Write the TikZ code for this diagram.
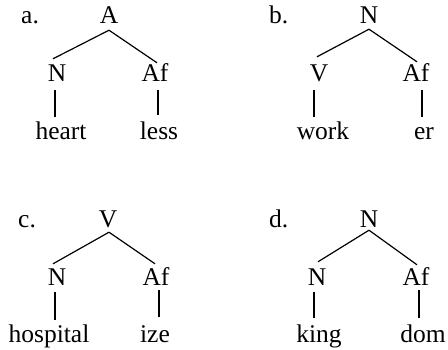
\documentclass[tikz,border=0pt]{standalone}
\usepackage{fontspec}
\setmainfont{Liberation Serif}
\begin{document}
\begin{tikzpicture}[x=1pt,y=1pt,
  lbl/.style={font=\fontsize{25.5}{30}\selectfont, inner sep=0pt, anchor=base, text height=17pt, text depth=0pt},
  tag/.style={lbl, anchor=base west},
  edge/.style={line width=1.2pt, black}]
\useasboundingbox (0,0) rectangle (448,349);
% tree a
\node[tag] (ta) at (21,325) {a.};
\node[lbl] (aR) at (109,325) {A};
\node[lbl] (aL) at (57,267) {N};
\node[lbl] (aF) at (155,267) {Af};
\node[lbl] (aW) at (61,209) {heart};
\node[lbl] (aS) at (159,209) {less};
\draw[edge] ([yshift=-6pt]aR.south) -- ([xshift=-4pt,yshift=6pt]aL.north);
\draw[edge] ([yshift=-6pt]aR.south) -- ([xshift=2pt,yshift=2pt]aF.north);
\draw[edge] ([xshift=-2pt,yshift=-8pt]aL.south) -- ([xshift=-2pt,yshift=6pt]aL.south |- aW.north);
\draw[edge] ([xshift=3pt,yshift=-8pt]aF.south) -- ([xshift=3pt,yshift=8pt]aF.south |- aS.north);
% tree b
\node[tag] (tb) at (269,325) {b.};
\node[lbl] (bR) at (369,325) {N};
\node[lbl] (bL) at (319,267) {V};
\node[lbl] (bF) at (416,267) {Af};
\node[lbl] (bW) at (323,209) {work};
\node[lbl] (bS) at (424,209) {er};
\draw[edge] ([yshift=-5pt]bR.south) -- ([xshift=-2pt,yshift=8pt]bL.north);
\draw[edge] ([yshift=-5pt]bR.south) -- ([xshift=1pt,yshift=3pt]bF.north);
\draw[edge] ([xshift=-5pt,yshift=-8pt]bL.south) -- ([xshift=-5pt,yshift=6pt]bL.south |- bW.north);
\draw[edge] ([xshift=6pt,yshift=-8pt]bF.south) -- ([xshift=6pt,yshift=6pt]bF.south |- bS.north);
% tree c
\node[tag] (tc) at (18,122) {c.};
\node[lbl] (cR) at (108,122) {V};
\node[lbl] (cL) at (57,64) {N};
\node[lbl] (cF) at (156,64) {Af};
\node[lbl] (cW) at (49,7) {hospital};
\node[lbl] (cS) at (155,7) {ize};
\draw[edge] ([xshift=1pt,yshift=-5pt]cR.south) -- ([xshift=-4pt,yshift=4pt]cL.north);
\draw[edge] ([xshift=1pt,yshift=-5pt]cR.south) -- ([xshift=-1pt,yshift=4pt]cF.north);
\draw[edge] ([xshift=-2pt,yshift=-7pt]cL.south) -- ([xshift=-2pt,yshift=5pt]cL.south |- cW.north);
\draw[edge] ([xshift=3pt,yshift=-5pt]cF.south) -- ([xshift=3pt,yshift=8pt]cF.south |- cS.north);
% tree d
\node[tag] (td) at (269,122) {d.};
\node[lbl] (dR) at (369,122) {N};
\node[lbl] (dL) at (317,64) {N};
\node[lbl] (dF) at (416,64) {Af};
\node[lbl] (dW) at (319,7) {king};
\node[lbl] (dS) at (423,7) {dom};
\draw[edge] ([yshift=-3pt]dR.south) -- ([xshift=1pt,yshift=6pt]dL.north);
\draw[edge] ([yshift=-3pt]dR.south) -- ([xshift=1pt,yshift=3pt]dF.north);
\draw[edge] ([xshift=-3pt,yshift=-7pt]dL.south) -- ([xshift=-3pt,yshift=7pt]dL.south |- dW.north);
\draw[edge] ([xshift=3pt,yshift=-5pt]dF.south) -- ([xshift=3pt,yshift=7pt]dF.south |- dS.north);
\end{tikzpicture}
\end{document}
